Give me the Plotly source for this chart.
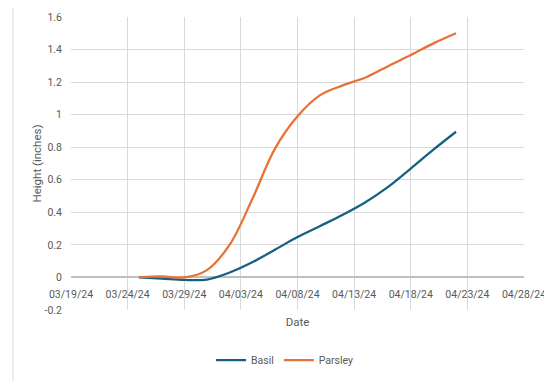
import plotly.graph_objects as go

dates = ["2024-03-25", "2024-03-27", "2024-03-29", "2024-03-31", "2024-04-02",
         "2024-04-04", "2024-04-06", "2024-04-08", "2024-04-10", "2024-04-12",
         "2024-04-14", "2024-04-16", "2024-04-18", "2024-04-20", "2024-04-22"]
basil = [0.0, -0.007, -0.015, -0.013, 0.03, 0.093, 0.17, 0.248, 0.316, 0.385,
         0.462, 0.556, 0.669, 0.785, 0.895]
parsley = [0.0, 0.006, 0.0, 0.045, 0.20, 0.48, 0.79, 0.99, 1.12, 1.18,
           1.228, 1.298, 1.366, 1.438, 1.50]

y_tickvals = [-0.2, 0, 0.2, 0.4, 0.6, 0.8, 1, 1.2, 1.4, 1.6]
y_ticktext = ["-0.2", "0", "0.2", "0.4", "0.6", "0.8", "1", "1.2", "1.4", "1.6"]

FONT = "Roboto, Arial, sans-serif"
GREY = "#595959"

fig = go.Figure()
fig.add_trace(go.Scatter(x=dates, y=basil, name="Basil", mode="lines",
                         line=dict(color="#156082", width=2.25, shape="spline", smoothing=1.0)))
fig.add_trace(go.Scatter(x=dates, y=parsley, name="Parsley", mode="lines",
                         line=dict(color="#E97132", width=2.25, shape="spline", smoothing=1.0)))

OFF = 8  # page body margin
W, H = 552 - OFF, 381 - OFF
PL, PR, PT, PB = 71, 524, 17, 310  # plot area in page pixels
L, T = PL - OFF, PT - OFF
R = W - (PR - OFF)
B = H - (PB - OFF)
pw, ph = PR - PL, PB - PT

def px(x):
    return (x - PL) / pw

def py(y):
    return (PB - y) / ph

fig.update_layout(
    width=W, height=H,
    margin=dict(l=L, r=R, t=T, b=B, autoexpand=False),
    paper_bgcolor="white", plot_bgcolor="white",
    font=dict(family=FONT, size=10.5, color=GREY),
    showlegend=True,
    legend=dict(orientation="h", x=px(285), xanchor="center", y=py(360), yanchor="middle",
                font=dict(family=FONT, size=10.5, color=GREY), itemwidth=30,
                bgcolor="rgba(0,0,0,0)"),
    xaxis=dict(
        type="date",
        range=["2024-03-19", "2024-04-28"],
        tick0="2024-03-19", dtick=5 * 86400000,
        tickformat="%m/%d/%y",
        showgrid=True, gridcolor="#D9D9D9", gridwidth=1,
        zeroline=False, showline=False,
        anchor="free", position=py(277),
        ticks="", ticklabelstandoff=9,
        tickfont=dict(family=FONT, size=10.5, color=GREY),
        title=dict(text="Date", font=dict(family=FONT, size=11.5, color=GREY), standoff=18),
    ),
    yaxis=dict(
        range=[-0.2, 1.6],
        tickvals=y_tickvals, ticktext=y_ticktext,
        showgrid=True, gridcolor="#D9D9D9", gridwidth=1,
        zeroline=True, zerolinecolor="#BFBFBF", zerolinewidth=1.5,
        showline=False, ticks="", ticklabelstandoff=8,
        tickfont=dict(family=FONT, size=10.5, color=GREY),
        title=dict(text="Height (inches)", font=dict(family=FONT, size=11.5, color=GREY), standoff=0),
    ),
    shapes=[dict(type="rect", xref="paper", yref="paper",
                 x0=px(13), x1=px(560), y0=py(390), y1=py(3),
                 line=dict(color="#D9D9D9", width=1), fillcolor="rgba(0,0,0,0)",
                 layer="below")],
)

fig.write_html("out.html")
